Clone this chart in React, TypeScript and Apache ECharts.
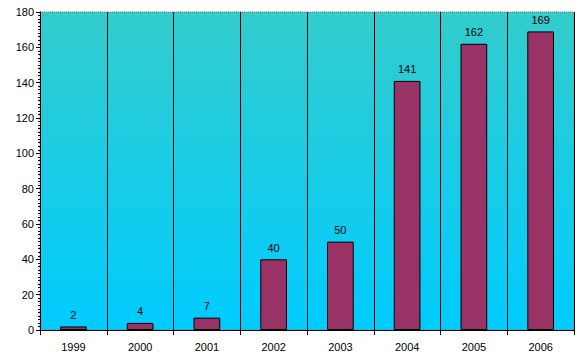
import React, { useEffect, useRef } from "react";
import * as echarts from "echarts";

const years = ["1999", "2000", "2001", "2002", "2003", "2004", "2005", "2006"];
const counts = [2, 4, 7, 40, 50, 141, 162, 169];

export default function App() {
  const ref = useRef<HTMLDivElement>(null);
  useEffect(() => {
    const chart = echarts.init(ref.current!, null, { renderer: "svg" });
    chart.setOption({
      animation: false,
      grid: {
        left: 40,
        right: 7,
        top: 12,
        bottom: 26,
        show: true,
        borderColor: "#777",
        borderType: "dotted",
        borderWidth: 1,
        backgroundColor: new echarts.graphic.LinearGradient(0, 0, 0, 1, [
          { offset: 0, color: "#33CCCC" },
          { offset: 1, color: "#00CCFF" },
        ]),
      },
      xAxis: {
        type: "category",
        data: years,
        axisLine: { lineStyle: { color: "#000", width: 1 } },
        axisTick: { show: true, length: 5, lineStyle: { color: "#000" } },
        axisLabel: { color: "#000", fontFamily: "Arial, Liberation Sans", fontSize: 11, margin: 11 },
        splitLine: { show: true, lineStyle: { color: "#000", width: 1 } },
      },
      yAxis: {
        type: "value",
        min: 0,
        max: 180,
        interval: 20,
        axisLine: { show: true, lineStyle: { color: "#000", width: 1 } },
        axisTick: { show: true, length: 4, lineStyle: { color: "#000" } },
        minorTick: { show: true, splitNumber: 10, length: 2, lineStyle: { color: "#000" } },
        axisLabel: { color: "#000", fontFamily: "Arial, Liberation Sans", fontSize: 11, margin: 6 },
        splitLine: { show: false },
      },
      series: [
        {
          type: "bar",
          data: counts,
          barWidth: "40%",
          itemStyle: { color: "#993366", borderColor: "#000", borderWidth: 1 },
          label: {
            show: true,
            position: "top",
            distance: 6,
            color: "#000",
            fontFamily: "Arial, Liberation Sans",
            fontSize: 11,
          },
        },
      ],
    });
    return () => chart.dispose();
  }, []);
  return (
    <div
      ref={ref}
      style={{ position: "absolute", left: 0, top: 0, width: 581, height: 356, background: "#fff" }}
    />
  );
}
